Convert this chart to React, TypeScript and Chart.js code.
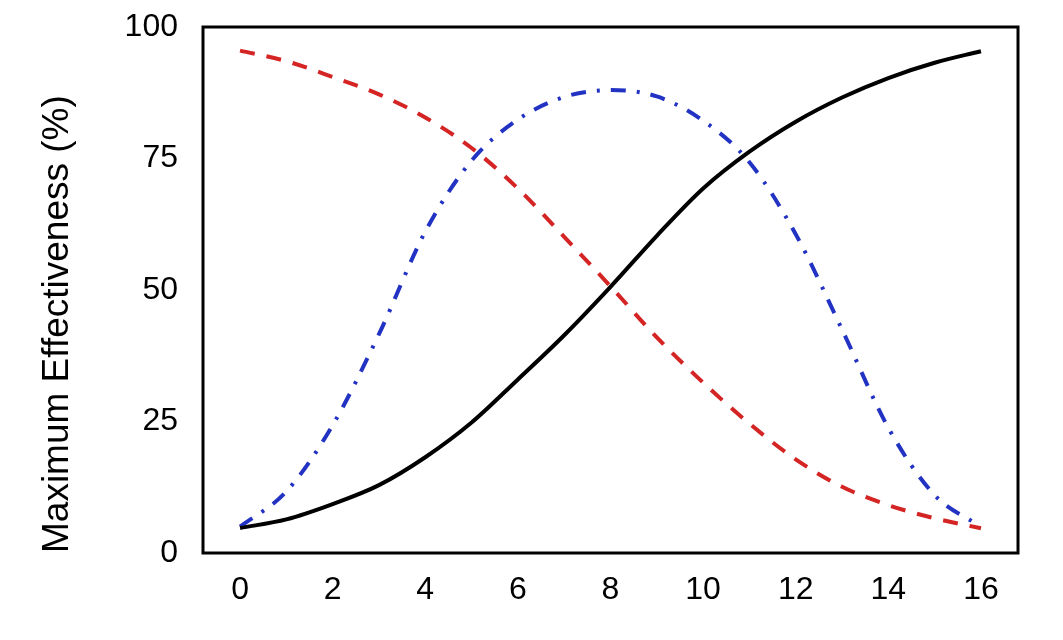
import React, { useEffect, useRef } from "react";
import { Chart, registerables } from "chart.js";

Chart.register(...registerables);

const X_VALUES = [0, 1, 2, 3, 4, 5, 6, 7, 8, 9, 10, 11, 12, 13, 14, 15, 16];
const SOLID_BLACK = [4.75, 6.4, 9.3, 12.9, 18.2, 24.8, 33, 41.4, 50.6, 60.3, 69.3, 76.3, 82.0, 86.6, 90.3, 93.2, 95.4];
const DASHED_RED = [95.5, 93.5, 90.5, 87.2, 82.8, 77, 69.3, 60.1, 50.7, 41, 32.4, 24.6, 17.8, 12.6, 9.1, 6.6, 4.7];
const DASHDOT_BLUE = [5, 11.7, 24.3, 41.6, 61.1, 74.6, 82.4, 86.7, 88, 86.8, 82.2, 74.3, 60.6, 42.5, 23.8, 11, 5];
const X_TICKS = [0, 2, 4, 6, 8, 10, 12, 14, 16];
const Y_TICKS = [0, 25, 50, 75, 100];
const Y_TITLE = "Maximum Effectiveness (%)";

const FONT = "'Liberation Sans', Arial, Helvetica, sans-serif";

const framePlugin = {
  id: "frame",
  afterDatasetsDraw(chart: any) {
    const { ctx, chartArea } = chart;
    ctx.save();
    ctx.strokeStyle = "#000";
    ctx.lineWidth = 3;
    ctx.strokeRect(chartArea.left, chartArea.top, chartArea.right - chartArea.left, chartArea.bottom - chartArea.top);
    ctx.restore();
  },
};

const toPoints = (ys: number[]) => X_VALUES.map((x, i) => ({ x, y: ys[i] }));

export default function App() {
  const ref = useRef<HTMLCanvasElement>(null);
  useEffect(() => {
    const chart = new Chart(ref.current as HTMLCanvasElement, {
      type: "line",
      data: {
        datasets: [
          {
            label: "Solid",
            data: toPoints(SOLID_BLACK),
            borderColor: "#000000",
            borderWidth: 4,
            pointRadius: 0,
            cubicInterpolationMode: "monotone",
          },
          {
            label: "Dashed",
            data: toPoints(DASHED_RED),
            borderColor: "#d42424",
            borderWidth: 4,
            borderDash: [15, 12],
            pointRadius: 0,
            cubicInterpolationMode: "monotone",
          },
          {
            label: "Dash-dot",
            data: toPoints(DASHDOT_BLUE),
            borderColor: "#2233c4",
            borderWidth: 4,
            borderDash: [15, 11, 3, 11],
            pointRadius: 0,
            cubicInterpolationMode: "monotone",
          },
        ],
      },
      options: {
        animation: false,
        responsive: false,
        events: [],
        layout: { padding: { top: 27, right: 45, bottom: 0, left: 0 } },
        plugins: { legend: { display: false }, tooltip: { enabled: false } },
        scales: {
          x: {
            type: "linear",
            min: -0.8,
            max: 16.8,
            grid: { display: false, drawTicks: false },
            border: { display: false },
            afterBuildTicks: (scale: any) => {
              scale.ticks = X_TICKS.map((v) => ({ value: v }));
            },
            afterFit: (scale: any) => {
              scale.height = 87;
            },
            ticks: {
              color: "#000",
              padding: 18,
              maxRotation: 0,
              autoSkip: false,
              font: { family: FONT, size: 32 },
            },
          },
          y: {
            type: "linear",
            min: 0,
            max: 100,
            grid: { display: false, drawTicks: false },
            border: { display: false },
            afterBuildTicks: (scale: any) => {
              scale.ticks = Y_TICKS.map((v) => ({ value: v }));
            },
            afterFit: (scale: any) => {
              scale.width = 203;
              scale.paddingTop = 0;
              scale.paddingBottom = 0;
            },
            ticks: {
              color: "#000",
              padding: 25,
              font: { family: FONT, size: 32 },
            },
            title: {
              display: true,
              text: Y_TITLE,
              align: "start",
              color: "#000",
              padding: { top: 36, bottom: 0 },
              font: { family: FONT, size: 37 },
            },
          },
        },
      },
      plugins: [framePlugin],
    } as any);
    return () => chart.destroy();
  }, []);
  return (
    <div style={{ position: "absolute", left: 0, top: 0, width: 1063, height: 640, background: "#fff" }}>
      <canvas ref={ref} width={1063} height={640} />
    </div>
  );
}
